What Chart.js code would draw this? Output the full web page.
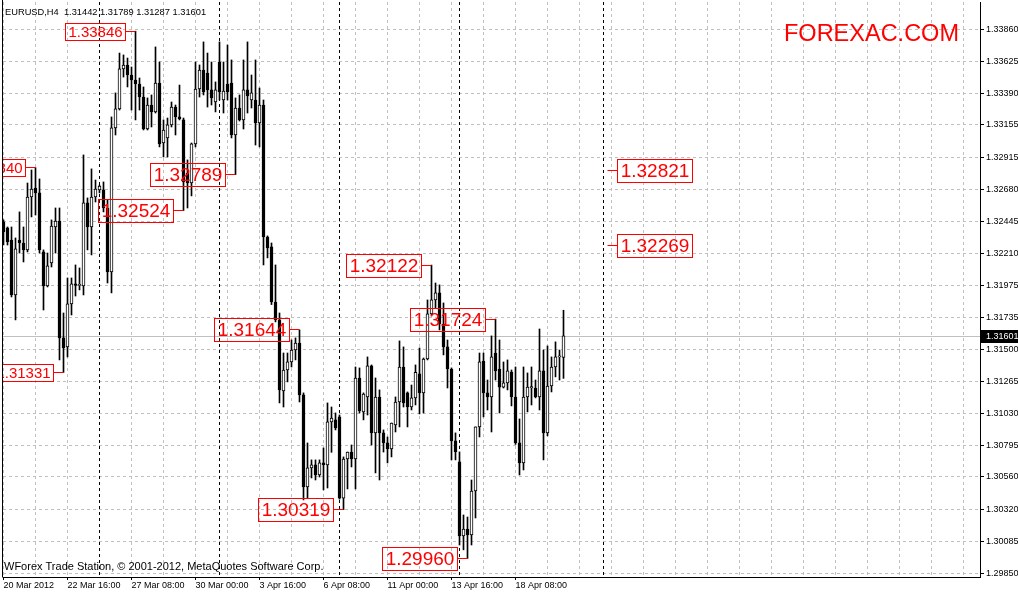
<!DOCTYPE html>
<html>
<head>
<meta charset="utf-8">
<title>EURUSD H4</title>
<script src="https://cdn.jsdelivr.net/npm/chart.js@4.4.0/dist/chart.umd.min.js"></script>
<style>
  html, body { margin: 0; padding: 0; background: #fff; }
  canvas { display: block; }
</style>
</head>
<body>
<canvas id="chart" width="1018" height="592"></canvas>
<script>
const symbolTitle = "EURUSD,H4";
const copyright = "WForex Trade Station, \u00a9 2001-2012, MetaQuotes Software Corp.";
const watermark = "FOREXAC.COM";

// H4 candles, 20 Mar 2012 00:00 onwards
const opens = [
  1.32440, 1.32396, 1.32307, 1.31902, 1.32307, 1.32285, 1.32234, 1.32624, 1.32690, 1.32654,
  1.32219, 1.31968, 1.32138, 1.32403, 1.32447, 1.31585, 1.31519, 1.31836, 1.31983, 1.31972,
  1.31968, 1.32580, 1.32403, 1.32624, 1.32676, 1.32676, 1.32543, 1.32071, 1.33133, 1.33273,
  1.33568, 1.33597, 1.33523, 1.33486, 1.33457, 1.33361, 1.33125, 1.33302, 1.33251, 1.33464,
  1.33022, 1.33059, 1.33155, 1.33287, 1.33214, 1.33192, 1.32801, 1.32727, 1.33015, 1.33420,
  1.33560, 1.33538, 1.33413, 1.33324, 1.33619, 1.33339, 1.33457, 1.33464, 1.33081, 1.33280,
  1.33192, 1.33413, 1.33339, 1.33339, 1.33169, 1.33302, 1.32329, 1.32256, 1.31850, 1.31718,
  1.31194, 1.31349, 1.31408, 1.31496, 1.31548, 1.31165, 1.30487, 1.30627, 1.30649, 1.30575,
  1.30664, 1.30649, 1.30966, 1.30981, 1.31003, 1.30404, 1.30693, 1.30744, 1.30693, 1.31290,
  1.31040, 1.31150, 1.31379, 1.30885, 1.31150, 1.30885, 1.30811, 1.30767, 1.30944, 1.31113,
  1.31371, 1.31180, 1.31076, 1.31143, 1.31320, 1.31180, 1.31430, 1.31762, 1.31865, 1.31917,
  1.31688, 1.31519, 1.31356, 1.30826, 1.30671, 1.30126, 1.30177, 1.30133, 1.30457, 1.30929,
  1.31415, 1.31180, 1.31150, 1.31474, 1.31356, 1.31223, 1.31254, 1.31334, 1.31150, 1.30811,
  1.30664, 1.31150, 1.31216, 1.31216, 1.31150, 1.31342, 1.30885, 1.31231, 1.31371, 1.31445,
  1.31442
];
const highs = [
  1.32455, 1.32403, 1.32403, 1.32322, 1.32514, 1.32403, 1.32727, 1.32823, 1.32840, 1.32757,
  1.32234, 1.32211, 1.32455, 1.32543, 1.32543, 1.31769, 1.32027, 1.32027, 1.32123, 1.32101,
  1.32934, 1.32617, 1.32831, 1.32749, 1.32712, 1.32735, 1.32602, 1.33214, 1.33391, 1.33685,
  1.33671, 1.33648, 1.33582, 1.33846, 1.33501, 1.33435, 1.33354, 1.33376, 1.33730, 1.33619,
  1.33192, 1.33206, 1.33324, 1.33302, 1.33449, 1.33206, 1.32897, 1.33022, 1.33619, 1.33597,
  1.33767, 1.33685, 1.33619, 1.33472, 1.33767, 1.33619, 1.33744, 1.33634, 1.33354, 1.33376,
  1.33634, 1.33767, 1.33523, 1.33634, 1.33427, 1.33339, 1.32337, 1.32285, 1.32123, 1.31769,
  1.31474, 1.31474, 1.31570, 1.31585, 1.31644, 1.31180, 1.30811, 1.30686, 1.30686, 1.30686,
  1.30774, 1.31106, 1.31076, 1.31032, 1.31017, 1.30708, 1.30744, 1.30796, 1.31371, 1.31364,
  1.31180, 1.31445, 1.31386, 1.31290, 1.31202, 1.30907, 1.30855, 1.30958, 1.31150, 1.31563,
  1.31519, 1.31187, 1.31238, 1.31386, 1.31511, 1.31437, 1.31865, 1.32122, 1.31990, 1.31976,
  1.31843, 1.31570, 1.31364, 1.30885, 1.30745, 1.30280, 1.30265, 1.30538, 1.30929, 1.31474,
  1.31474, 1.31275, 1.31600, 1.31724, 1.31570, 1.31408, 1.31423, 1.31349, 1.31371, 1.30988,
  1.31371, 1.31327, 1.31371, 1.31275, 1.31651, 1.31496, 1.31526, 1.31445, 1.31556, 1.31496,
  1.31789
];
const lows = [
  1.32270, 1.32270, 1.31887, 1.31718, 1.32211, 1.32145, 1.32219, 1.32477, 1.32491, 1.32211,
  1.31791, 1.31961, 1.32108, 1.32211, 1.31423, 1.31331, 1.31445, 1.31754, 1.31894, 1.31939,
  1.31902, 1.32234, 1.32197, 1.32587, 1.32654, 1.32514, 1.31990, 1.31917, 1.33081, 1.33265,
  1.33508, 1.33435, 1.33265, 1.33192, 1.33265, 1.33118, 1.33118, 1.33140, 1.33243, 1.32993,
  1.32919, 1.32919, 1.33140, 1.33081, 1.33192, 1.32524, 1.32543, 1.32632, 1.32993, 1.33361,
  1.33376, 1.33287, 1.33302, 1.33251, 1.33339, 1.33243, 1.33339, 1.33059, 1.32789, 1.33184,
  1.33125, 1.33243, 1.33280, 1.33007, 1.32993, 1.32123, 1.32175, 1.31831, 1.31703, 1.31106,
  1.31076, 1.31261, 1.31371, 1.31423, 1.31113, 1.30391, 1.30406, 1.30553, 1.30538, 1.30560,
  1.30465, 1.30479, 1.30742, 1.30907, 1.30397, 1.30319, 1.30472, 1.30634, 1.30472, 1.31032,
  1.30981, 1.31017, 1.30796, 1.30590, 1.30538, 1.30744, 1.30664, 1.30708, 1.30892, 1.30929,
  1.31076, 1.30929, 1.31054, 1.31091, 1.31025, 1.31032, 1.31423, 1.31754, 1.31806, 1.31644,
  1.31460, 1.31216, 1.30686, 1.30686, 1.30059, 1.30023, 1.29960, 1.30059, 1.30258, 1.30855,
  1.31003, 1.31054, 1.30892, 1.31275, 1.31032, 1.31216, 1.31202, 1.31084, 1.30800, 1.30575,
  1.30612, 1.31040, 1.31091, 1.31143, 1.31054, 1.30686, 1.30863, 1.31187, 1.31298, 1.31275,
  1.31287
];
const closes = [
  1.32366, 1.32293, 1.31902, 1.32241, 1.32285, 1.32234, 1.32624, 1.32683, 1.32654, 1.32234,
  1.31968, 1.32116, 1.32410, 1.32447, 1.31585, 1.31511, 1.31836, 1.31983, 1.31972, 1.31976,
  1.32580, 1.32403, 1.32624, 1.32683, 1.32705, 1.32543, 1.32071, 1.33133, 1.33273, 1.33568,
  1.33597, 1.33523, 1.33486, 1.33457, 1.33361, 1.33125, 1.33302, 1.33251, 1.33464, 1.33015,
  1.33118, 1.33155, 1.33287, 1.33214, 1.33199, 1.32735, 1.32727, 1.33015, 1.33420, 1.33560,
  1.33398, 1.33413, 1.33354, 1.33413, 1.33398, 1.33405, 1.33398, 1.33081, 1.33280, 1.33192,
  1.33413, 1.33369, 1.33391, 1.33169, 1.33302, 1.32329, 1.32248, 1.31850, 1.31718, 1.31202,
  1.31349, 1.31408, 1.31496, 1.31548, 1.31165, 1.30487, 1.30627, 1.30649, 1.30575, 1.30664,
  1.30649, 1.30966, 1.30995, 1.30922, 1.30404, 1.30693, 1.30744, 1.30693, 1.31290, 1.31047,
  1.31172, 1.31379, 1.30885, 1.31150, 1.30885, 1.30811, 1.30767, 1.30958, 1.31113, 1.31371,
  1.31106, 1.31076, 1.31143, 1.31331, 1.31180, 1.31430, 1.31762, 1.31865, 1.31917, 1.31688,
  1.31519, 1.31356, 1.30826, 1.30744, 1.30126, 1.30177, 1.30133, 1.30457, 1.30929, 1.31408,
  1.31180, 1.31150, 1.31445, 1.31342, 1.31223, 1.31254, 1.31342, 1.31150, 1.30811, 1.30664,
  1.31150, 1.31223, 1.31227, 1.31150, 1.31342, 1.30885, 1.31231, 1.31371, 1.31445, 1.31449,
  1.31601
];

// time labels, one every 16 bars starting at bar 0
const xTickLabels = ["20 Mar 2012", "22 Mar 16:00", "27 Mar 08:00", "30 Mar 00:00", "3 Apr 16:00",
  "6 Apr 08:00", "11 Apr 00:00", "13 Apr 16:00", "18 Apr 08:00"];
const yTickLabels = ["1.33860", "1.33625", "1.33390", "1.33155", "1.32915", "1.32680", "1.32445",
  "1.32210", "1.31975", "1.31735", "1.31500", "1.31265", "1.31030", "1.30795", "1.30560",
  "1.30320", "1.30085", "1.29850"];

// week separators (bar index) and the projected time line
const weekStarts = [24, 54, 84, 114];
const markerBar = 150;

// swing tags: price and the bar they point at
const swingPrices = [1.33846, 1.32840, 1.32524, 1.32789, 1.31331, 1.31644, 1.30319, 1.32122, 1.31724, 1.29960];
const swingBars = [33, 8, 45, 58, 15, 74, 85, 107, 123, 116];
// projected levels on the right
const targetPrices = [1.32821, 1.32269];

const RED = "#ff0000";
const SANS = '"Liberation Sans", Arial, sans-serif';
const smallTags = [0, 1, 4];
const gridBars = Array.from({ length: 31 }, (_, k) => k * 8);

function snap(v) {
    return Math.floor(v) + 0.5;
}

function drawTag(ctx, left, midY, w, h, txt) {
    const top = midY - Math.floor(h / 2);
    ctx.strokeRect(left, top, w, h);
    ctx.fillText(txt, left + w / 2, top + h / 2 + 1);
}

const overlay = {
    id: "overlay",
    beforeDatasetsDraw(chart) {
        const { ctx, chartArea: a, scales: { x, y } } = chart;
        ctx.save();
        ctx.beginPath();
        ctx.rect(a.left, a.top, a.right - a.left, a.bottom - a.top);
        ctx.clip();
        ctx.lineWidth = 1;

        // bid line
        const by = Math.round(y.getPixelForValue(closes[closes.length - 1])) + 0.5;
        ctx.strokeStyle = "#c0c0c0";
        ctx.beginPath();
        ctx.moveTo(a.left, by);
        ctx.lineTo(a.right, by);
        ctx.stroke();

        // period separators
        ctx.strokeStyle = "#000";
        ctx.setLineDash([3, 3]);
        weekStarts.concat([markerBar]).forEach((b) => {
            const px = snap(x.getPixelForValue(b));
            ctx.beginPath();
            ctx.moveTo(px, a.top);
            ctx.lineTo(px, a.bottom);
            ctx.stroke();
        });
        ctx.restore();
    },
    afterDatasetsDraw(chart) {
        const { ctx, chartArea: a, scales: { x, y } } = chart;
        ctx.save();
        ctx.beginPath();
        ctx.rect(a.left, a.top, a.right - a.left, a.bottom - a.top);
        ctx.clip();
        ctx.strokeStyle = RED;
        ctx.fillStyle = RED;
        ctx.lineWidth = 1;
        ctx.textAlign = "center";
        ctx.textBaseline = "middle";

        swingPrices.forEach((p, k) => {
            const small = smallTags.includes(k);
            const h = small ? 17 : 23;
            ctx.font = (small ? 15 : 19) + "px " + SANS;
            const txt = p.toFixed(5);
            const w = Math.round(ctx.measureText(txt).width) + 6;
            const ax = snap(x.getPixelForValue(swingBars[k]));
            const ay = snap(y.getPixelForValue(p));
            const right = ax - 10;
            drawTag(ctx, right - w, ay, w, h, txt);
            ctx.beginPath();
            ctx.moveTo(right, ay);
            ctx.lineTo(ax, ay);
            ctx.stroke();
        });

        targetPrices.forEach((p) => {
            ctx.font = "19px " + SANS;
            const txt = p.toFixed(5);
            const w = Math.round(ctx.measureText(txt).width) + 6;
            const ax = snap(x.getPixelForValue(markerBar + 1));
            const ay = snap(y.getPixelForValue(p));
            drawTag(ctx, ax + 10, ay, w, 23, txt);
            ctx.beginPath();
            ctx.moveTo(ax, ay);
            ctx.lineTo(ax + 10, ay);
            ctx.stroke();
        });

        // watermark
        ctx.font = "23.5px " + SANS;
        ctx.textAlign = "left";
        ctx.textBaseline = "alphabetic";
        ctx.fillText(watermark, 784, 41);
        ctx.restore();
    },
    afterDraw(chart) {
        const { ctx, chartArea: a, scales: { y } } = chart;
        const n = closes.length - 1;
        ctx.save();
        ctx.fillStyle = "#000";
        ctx.textAlign = "left";
        ctx.textBaseline = "alphabetic";
        ctx.font = "9.3px " + SANS;
        const title = symbolTitle + "  " + [opens[n], highs[n], lows[n], closes[n]].map((v) => v.toFixed(5)).join(" ");
        ctx.fillText(title, 5, 15);
        ctx.font = "11px " + SANS;
        ctx.fillText(copyright, 4, 570);

        // current price box on the axis
        const by = Math.round(y.getPixelForValue(closes[n]));
        ctx.fillRect(a.right + 1, by - 6, 1018 - a.right - 1, 13);
        ctx.fillStyle = "#fff";
        ctx.font = "9px " + SANS;
        ctx.textBaseline = "middle";
        ctx.fillText(closes[n].toFixed(5), a.right + 6, by + 0.5);

        // left frame
        ctx.strokeStyle = "#000";
        ctx.lineWidth = 1;
        ctx.beginPath();
        ctx.moveTo(a.left - 0.5, 0);
        ctx.lineTo(a.left - 0.5, a.bottom + 0.5);
        ctx.stroke();
        ctx.restore();
    }
};

const idx = closes.map((_, i) => i);
const tickFont = { family: SANS, size: 9 };

new Chart(document.getElementById("chart"), {
    type: "bar",
    data: {
        datasets: [
            {
                label: "range",
                data: idx.map((i) => ({ x: i, y: [lows[i], highs[i]] })),
                backgroundColor: "#000",
                barThickness: 1,
                grouped: false,
                order: 2,
            },
            {
                label: "body",
                data: idx.map((i) => ({ x: i, y: [opens[i], closes[i]] })),
                backgroundColor: idx.map((i) => (closes[i] > opens[i] ? "#fff" : "#000")),
                borderColor: "#000",
                borderWidth: 1,
                borderSkipped: false,
                barThickness: 3,
                minBarLength: 1,
                grouped: false,
                order: 1,
            },
        ],
    },
    options: {
        responsive: false,
        animation: false,
        devicePixelRatio: 1,
        events: [],
        layout: { autoPadding: false, padding: { left: 3, top: 2, right: 0, bottom: 0 } },
        plugins: { legend: { display: false }, tooltip: { enabled: false } },
        scales: {
            x: {
                type: "linear",
                min: -0.125,
                max: 244.125,
                offset: false,
                afterBuildTicks: (s) => { s.ticks = gridBars.map((v) => ({ value: v })); },
                afterFit: (s) => { s.height = 15; s.paddingLeft = 0; s.paddingRight = 0; },
                grid: {
                    color: "#c0c0c0",
                    offset: false,
                    tickLength: 3,
                    tickColor: (c) => (c.tick && c.tick.value % 16 === 0 && c.tick.value / 16 < xTickLabels.length ? "#000" : "rgba(0,0,0,0)"),
                },
                border: { color: "#000", dash: [3, 3] },
                ticks: {
                    autoSkip: false,
                    maxRotation: 0,
                    align: "start",
                    padding: 0,
                    color: "#000",
                    font: tickFont,
                    callback: (v) => (v % 16 === 0 ? (xTickLabels[v / 16] || "") : ""),
                },
            },
            y: {
                position: "right",
                min: 1.298229,
                max: 1.340612,
                bounds: "data",
                afterBuildTicks: (s) => { s.ticks = yTickLabels.map((t) => ({ value: parseFloat(t) })); },
                afterFit: (s) => { s.width = 38; s.paddingTop = 0; s.paddingBottom = 0; },
                grid: { color: "#c0c0c0", tickLength: 4, tickColor: "#000" },
                border: { color: "#000", dash: [3, 3] },
                ticks: {
                    autoSkip: false,
                    padding: 2,
                    color: "#000",
                    font: tickFont,
                    callback: (v, i) => yTickLabels[i],
                },
            },
        },
    },
    plugins: [overlay],
});
</script>
</body>
</html>
